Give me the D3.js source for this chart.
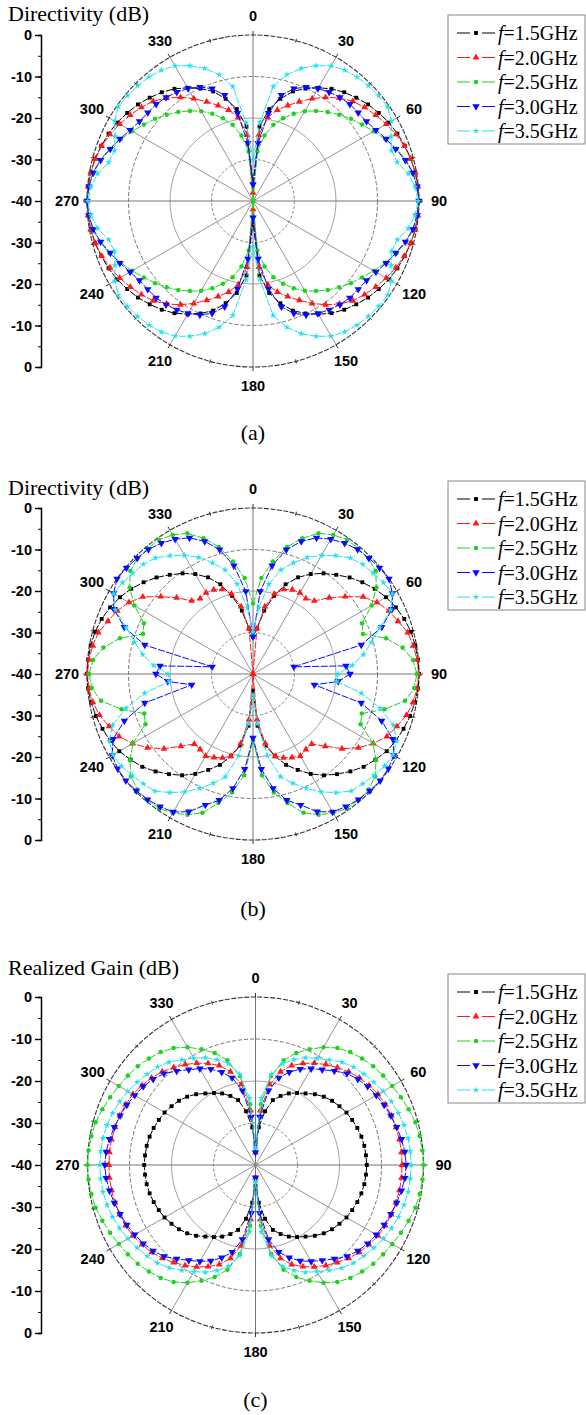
<!DOCTYPE html>
<html lang="en">
<head>
<meta charset="UTF-8">
<title>Directivity and Realized Gain</title>
<script src="https://cdn.jsdelivr.net/npm/d3@7/dist/d3.min.js"></script>
<style>
    body { margin: 0; background: #fff; }
    svg { display: block; }
    .ax text { font-family: "Liberation Sans", Arial, sans-serif; font-weight: bold; font-size: 14.5px; }
    .ang { font-family: "Liberation Sans", Arial, sans-serif; font-weight: bold; font-size: 14.5px; }
    .serif { font-family: "Liberation Serif", "Times New Roman", serif; font-size: 20px; }
    .title { font-family: "Liberation Serif", "Times New Roman", serif; font-size: 22px; }
</style>
</head>
<body>
<script>
    // measurement angles (deg, clockwise from top)
    const angles = d3.range(0, 360, 5)
    const freqs = ["1.5", "2.0", "2.5", "3.0", "3.5"]
    const radialTicks = [-40, -30, -20, -10, 0, 10, 20, 30, 40]

    // (a) Directivity
    const dirA15 = [-36,-22,-17.5,-14.5,-11.9,-10.1,-8.5,-7,-5.8,-4.8,-3.8,-3,-2.2,-1.6,-1.1,-0.6,-0.3,-0.1,0,
        -0.1,-0.3,-0.6,-1.1,-1.6,-2.2,-3,-3.8,-4.8,-5.8,-7,-8.5,-10.1,-11.9,-14.5,-17.5,-22,-35,
        -22,-17.5,-14.5,-11.9,-10.1,-8.5,-7,-5.8,-4.8,-3.8,-3,-2.2,-1.6,-1.1,-0.6,-0.3,-0.1,0,
        -0.1,-0.3,-0.6,-1.1,-1.6,-2.2,-3,-3.8,-4.8,-5.8,-7,-8.5,-10.1,-11.9,-14.5,-17.5,-22]
    const dirA20 = [-38,-24,-19.5,-17.3,-15.5,-13.6,-11.5,-9.5,-7.6,-6,-4.9,-3.9,-2.9,-2,-1.2,-0.7,-0.3,-0.1,0,
        -0.1,-0.3,-0.7,-1.2,-2,-2.9,-3.9,-4.9,-6,-7.6,-9.5,-11.5,-13.6,-15.5,-17.3,-19.5,-24,-38,
        -24,-19.5,-17.3,-15.5,-13.6,-11.5,-9.5,-7.6,-6,-4.9,-3.9,-2.9,-2,-1.2,-0.7,-0.3,-0.1,0,
        -0.1,-0.3,-0.7,-1.2,-2,-2.9,-3.9,-4.9,-6,-7.6,-9.5,-11.5,-13.6,-15.5,-17.3,-19.5,-24]
    const dirA25 = [-40,-28,-24,-21,-18.8,-16.8,-15,-13.5,-12,-10.6,-9.2,-7.9,-6.4,-4.8,-3.2,-1.8,-0.8,-0.3,0,
        -0.3,-0.8,-1.8,-3.2,-4.8,-6.4,-7.9,-9.2,-10.6,-12,-13.5,-15,-16.8,-18.8,-21,-24,-28,-40,
        -28,-24,-21,-18.8,-16.8,-15,-13.5,-12,-10.6,-9.2,-7.9,-6.4,-4.8,-3.2,-1.8,-0.8,-0.3,0,
        -0.3,-0.8,-1.8,-3.2,-4.8,-6.4,-7.9,-9.2,-10.6,-12,-13.5,-15,-16.8,-18.8,-21,-24,-28]
    const dirA30 = [-36,-26,-18.5,-13.6,-11.2,-9.7,-8.7,-8,-7.4,-7,-6.9,-6.6,-5.8,-4.6,-3.4,-2,-0.9,-0.3,0,
        -0.3,-0.9,-2,-3.4,-4.6,-5.8,-6.6,-6.9,-7,-7.4,-8,-8.7,-9.7,-11.2,-13.6,-18.5,-26,-36,
        -26,-18.5,-13.6,-11.2,-9.7,-8.7,-8,-7.4,-7,-6.9,-6.6,-5.8,-4.6,-3.4,-2,-0.9,-0.3,0,
        -0.3,-0.9,-2,-3.4,-4.6,-5.8,-6.6,-6.9,-7,-7.4,-8,-8.7,-9.7,-11.2,-13.6,-18.5,-26]
    const dirA35 = [-30,-21,-12,-8.5,-6,-4,-2.4,-1.5,-1,-0.7,-0.5,-0.4,-1.5,-3.3,-4.5,-4,-2,-0.8,-0.2,
        -0.8,-2,-4,-4.5,-3.3,-1.5,-0.4,-0.5,-0.7,-1,-1.5,-2.4,-4,-6,-8.5,-12,-21,-29,
        -21,-12,-8.5,-6,-4,-2.4,-1.5,-1,-0.7,-0.5,-0.4,-1.5,-3.3,-4.5,-4,-2,-0.8,-0.2,
        -0.8,-2,-4,-4.5,-3.3,-1.5,-0.4,-0.5,-0.7,-1,-1.5,-2.4,-4,-6,-8.5,-12,-21]

    // (b) Directivity
    const dirB15 = [-31,-29,-24.5,-20.5,-17,-14.3,-12.2,-10.4,-8.8,-7.1,-5.6,-4.2,-3,-2,-1.2,-0.6,-0.3,-0.1,0,
        -0.1,-0.4,-0.8,-1.4,-2,-2.8,-4,-5.2,-6.8,-8.5,-10.2,-12.2,-14.5,-16.7,-19.5,-22.5,-27.5,-36,
        -27.5,-22.5,-19.5,-16.7,-14.5,-12.2,-10.2,-8.5,-6.8,-5.2,-4,-2.8,-2,-1.4,-0.8,-0.4,-0.1,0,
        -0.1,-0.3,-0.6,-1.2,-2,-3,-4.2,-5.6,-7.1,-8.8,-10.4,-12.2,-14.3,-17,-20.5,-24.5,-29]
    const dirB20 = [-40,-29,-23.5,-20,-18.3,-17.6,-17.4,-17.8,-17,-14,-11,-7.6,-5.5,-3.9,-2.8,-1.4,-0.8,-0.3,-0.1,
        -0.3,-0.8,-1.7,-3.1,-4.4,-6.5,-9,-12,-15.4,-18,-17.8,-17.2,-17.8,-18.5,-19.5,-23,-29,-40,
        -29,-23,-19.5,-18.5,-17.8,-17.2,-17.8,-18,-15.4,-12,-9,-6.5,-4.4,-3.1,-1.7,-0.8,-0.3,-0.1,
        -0.3,-0.8,-1.4,-2.8,-3.9,-5.5,-7.6,-11,-14,-17,-17.8,-17.4,-17.6,-18.3,-20,-23.5,-29]
    const dirB25 = [-23,-16.8,-12.5,-8.3,-5.2,-2.6,-1.3,-0.5,-0.5,-0.6,-1.4,-3.7,-7,-11,-11.8,-6.8,-3.4,-1.3,-0.5,
        -1,-2.8,-7.2,-12.1,-11.4,-6.6,-3.8,-1.6,-0.6,-0.4,-0.5,-1.3,-2.6,-4.4,-7.8,-11,-15.5,-24,
        -15.5,-11,-7.8,-4.4,-2.6,-1.3,-0.5,-0.4,-0.6,-1.6,-3.8,-6.6,-11.4,-12.1,-7.2,-2.8,-1,-0.5,
        -1.3,-3.4,-6.8,-11.8,-11,-7,-3.7,-1.4,-0.6,-0.5,-0.5,-1.3,-2.6,-5.2,-8.3,-12.5,-16.8]
    const dirB30 = [-31,-20,-13.5,-9,-6,-3.8,-2.5,-1.5,-0.8,-0.5,-0.2,0,-1.2,-3,-7,-13,-30,-17.5,-16.6,
        -19.4,-25,-13,-7,-2.8,-0.8,-0.2,0,-0.2,-0.5,-1,-1.6,-3.4,-6.4,-8.5,-12,-17,-24.6,
        -17,-12,-8.5,-6.4,-3.4,-1.6,-1,-0.5,-0.2,0,-0.2,-0.8,-2.8,-7,-13,-25,-19.4,-16.6,
        -17.5,-30,-13,-7,-3,-1.2,0,-0.2,-0.5,-0.8,-1.5,-2.5,-3.8,-6,-9,-13.5,-20]
    const dirB35 = [-30,-24,-18,-14,-11.5,-9,-7,-5.2,-3.5,-2.6,-2.2,-1.6,-1.2,-3.4,-7.5,-10.5,-13,-16,-19.5,
        -19.8,-13.5,-8.3,-4,-1.8,-1,-1.3,-2,-2.6,-3.2,-5.1,-7.2,-9.6,-12,-14.4,-20,-28,-35,
        -28,-20,-14.4,-12,-9.6,-7.2,-5.1,-3.2,-2.6,-2,-1.3,-1,-1.8,-4,-8.3,-13.5,-19.8,-19.5,
        -16,-13,-10.5,-7.5,-3.4,-1.2,-1.6,-2.2,-2.6,-3.5,-5.2,-7,-9,-11.5,-14,-18,-24]

    // (c) Realized gain
    const gainC15 = [-35,-31,-27,-24,-22.5,-21.2,-20.2,-19.2,-18,-17,-16.2,-15.6,-15,-14.6,-14.2,-13.9,-13.7,-13.6,-13.5,
        -13.6,-13.7,-13.9,-14.2,-14.6,-15,-15.6,-16.2,-17,-18,-19.2,-20.2,-21.2,-22.5,-24,-27,-31,-35,
        -31,-27,-24,-22.5,-21.2,-20.2,-19.2,-18,-17,-16.2,-15.6,-15,-14.6,-14.2,-13.9,-13.7,-13.6,-13.5,
        -13.6,-13.7,-13.9,-14.2,-14.6,-15,-15.6,-16.2,-17,-18,-19.2,-20.2,-21.2,-22.5,-24,-27,-31]
    const gainC20 = [-37,-27,-20.5,-17,-14.8,-13.3,-12,-10.8,-9.7,-8.6,-7.7,-7,-6.3,-5.9,-5.6,-5.4,-5.2,-5.1,-5.1,
        -5.1,-5.2,-5.4,-5.6,-5.9,-6.3,-7,-7.7,-8.6,-9.7,-10.8,-12,-13.3,-14.8,-17,-20.5,-27,-37,
        -27,-20.5,-17,-14.8,-13.3,-12,-10.8,-9.7,-8.6,-7.7,-7,-6.3,-5.9,-5.6,-5.4,-5.2,-5.1,-5.1,
        -5.1,-5.2,-5.4,-5.6,-5.9,-6.3,-7,-7.7,-8.6,-9.7,-10.8,-12,-13.3,-14.8,-17,-20.5,-27]
    const gainC25 = [-36,-25.5,-18.5,-14.2,-11.6,-9.6,-7.6,-6,-4.9,-4.1,-3.4,-2.9,-2.4,-1.8,-1.2,-0.6,-0.3,-0.1,0,
        -0.1,-0.3,-0.6,-1.2,-1.8,-2.4,-2.9,-3.4,-4.1,-4.9,-6,-7.6,-9.6,-11.6,-14.2,-18.5,-25.5,-36,
        -25.5,-18.5,-14.2,-11.6,-9.6,-7.6,-6,-4.9,-4.1,-3.4,-2.9,-2.4,-1.8,-1.2,-0.6,-0.3,-0.1,0,
        -0.1,-0.3,-0.6,-1.2,-1.8,-2.4,-2.9,-3.4,-4.1,-4.9,-6,-7.6,-9.6,-11.6,-14.2,-18.5,-25.5]
    const gainC30 = [-37,-28.5,-22,-18.5,-16.5,-14.8,-13.5,-12.3,-10.8,-9.2,-8.2,-7.4,-6.8,-6.2,-5.7,-5.2,-4.7,-4.3,-4.1,
        -4.3,-4.7,-5.2,-5.7,-6.2,-6.8,-7.4,-8.2,-9.2,-10.8,-12.3,-13.5,-14.8,-16.5,-18.5,-22,-28.5,-37,
        -28.5,-22,-18.5,-16.5,-14.8,-13.5,-12.3,-10.8,-9.2,-8.2,-7.4,-6.8,-6.2,-5.7,-5.2,-4.7,-4.3,-4.1,
        -4.3,-4.7,-5.2,-5.7,-6.2,-6.8,-7.4,-8.2,-9.2,-10.8,-12.3,-13.5,-14.8,-16.5,-18.5,-22,-28.5]
    const gainC35 = [-36,-24,-18,-15,-13.3,-11.8,-10.7,-9.4,-8,-7,-6.3,-5.6,-4.9,-4.3,-3.8,-3.4,-3.1,-3,-2.9,
        -3,-3.1,-3.4,-3.8,-4.3,-4.9,-5.6,-6.3,-7,-8,-9.4,-10.7,-11.8,-13.3,-15,-18,-24,-36,
        -24,-18,-15,-13.3,-11.8,-10.7,-9.4,-8,-7,-6.3,-5.6,-4.9,-4.3,-3.8,-3.4,-3.1,-3,-2.9,
        -3,-3.1,-3.4,-3.8,-4.3,-4.9,-5.6,-6.3,-7,-8,-9.4,-10.7,-11.8,-13.3,-15,-18,-24]

    const colors = ["#000000", "#ff1a1a", "#1fd21f", "#0a0aff", "#22e2ee"]
    const markers = [
        { type: d3.symbolSquare, size: 15, rot: 0 },
        { type: d3.symbolTriangle, size: 20, rot: 0 },
        { type: d3.symbolCircle, size: 16, rot: 0 },
        { type: d3.symbolTriangle, size: 24, rot: 180 },
        { type: d3.symbolStar, size: 14, rot: 0 }
    ]

    const panels = [
        { cx: 253, cy: 201, R: 166, title: "Directivity (dB)", titleY: 21, caption: "(a)", capY: 440, legY: 15,
          data: [dirA15, dirA20, dirA25, dirA30, dirA35] },
        { cx: 253, cy: 674, R: 166, title: "Directivity (dB)", titleY: 495, caption: "(b)", capY: 916, legY: 481,
          data: [dirB15, dirB20, dirB25, dirB30, dirB35] },
        { cx: 255.5, cy: 1165, R: 168, title: "Realized Gain (dB)", titleY: 975, caption: "(c)", capY: 1407, legY: 974,
          data: [gainC15, gainC20, gainC25, gainC30, gainC35] }
    ]

    const svg = d3.select("body").append("svg")
        .attr("width", 586)
        .attr("height", 1415)

    const rad = (deg) => deg * Math.PI / 180

    function drawPanel(p) {
        const r = d3.scaleLinear().domain([-40, 0]).range([0, p.R]).clamp(true)

        // left radial axis (0 at top, -40 at centre, 0 at bottom)
        const y = d3.scaleLinear().domain([-40, 40]).range([p.cy - p.R, p.cy + p.R])
        svg.append("g")
            .attr("class", "ax")
            .attr("transform", "translate(41,0)")
            .call(d3.axisLeft(y).tickValues(d3.range(-40, 41, 5)).tickSize(3).tickFormat(""))
            .call(g => g.select(".domain").attr("stroke-width", 1.5))
        svg.append("g")
            .attr("class", "ax")
            .attr("transform", "translate(41,0)")
            .call(d3.axisLeft(y).tickValues(radialTicks).tickSize(6).tickPadding(3)
                .tickFormat(d => (Math.abs(d) - 40 === 0 ? "0" : String(Math.abs(d) - 40))))
            .call(g => g.select(".domain").remove())
            .call(g => g.selectAll("line").attr("stroke-width", 1.4))

        svg.append("text")
            .attr("class", "title")
            .attr("x", 8)
            .attr("y", p.titleY)
            .text(p.title)

        const g = svg.append("g").attr("transform", `translate(${p.cx},${p.cy})`)

        // grid rings
        const rings = [
            { v: -30, dash: "3,2", stroke: "#777" },
            { v: -20, dash: null, stroke: "#999" },
            { v: -10, dash: "4,2", stroke: "#666" }
        ]
        g.selectAll(".ring")
            .data(rings)
            .enter().append("circle")
            .attr("r", d => r(d.v))
            .attr("fill", "none")
            .attr("stroke", d => d.stroke)
            .attr("stroke-width", 0.9)
            .attr("stroke-dasharray", d => d.dash)

        // spokes every 30 deg
        g.selectAll(".spoke")
            .data(d3.range(0, 180, 30))
            .enter().append("line")
            .attr("x1", d => p.R * Math.sin(rad(d)))
            .attr("y1", d => -p.R * Math.cos(rad(d)))
            .attr("x2", d => -p.R * Math.sin(rad(d)))
            .attr("y2", d => p.R * Math.cos(rad(d)))
            .attr("stroke", d => d % 90 === 0 ? "#666" : "#888")
            .attr("stroke-width", 0.9)

        // outer ring + tick marks
        g.append("circle")
            .attr("r", p.R)
            .attr("fill", "none")
            .attr("stroke", "#333")
            .attr("stroke-width", 1.1)
            .attr("stroke-dasharray", "5,1.5")
        g.selectAll(".otick")
            .data(d3.range(0, 360, 15))
            .enter().append("line")
            .attr("x1", d => (p.R - (d % 30 ? 2 : 0)) * Math.sin(rad(d)))
            .attr("y1", d => -(p.R - (d % 30 ? 2 : 0)) * Math.cos(rad(d)))
            .attr("x2", d => (p.R + (d % 30 ? 2 : 4)) * Math.sin(rad(d)))
            .attr("y2", d => -(p.R + (d % 30 ? 2 : 4)) * Math.cos(rad(d)))
            .attr("stroke", "#333")
            .attr("stroke-width", 1)

        // angle labels
        g.selectAll(".ang")
            .data(d3.range(0, 360, 30))
            .enter().append("text")
            .attr("class", "ang")
            .attr("x", d => (p.R + 20) * Math.sin(rad(d)))
            .attr("y", d => -(p.R + 19) * Math.cos(rad(d)))
            .attr("dy", "0.36em")
            .attr("text-anchor", "middle")
            .text(d => d)

        // series
        const line = d3.lineRadial()
            .angle((d, i) => rad(angles[i]))
            .radius(d => r(d))
            .curve(d3.curveLinearClosed)

        p.data.forEach((vals, k) => {
            g.append("path")
                .attr("d", line(vals))
                .attr("fill", "none")
                .attr("stroke", colors[k])
                .attr("stroke-width", 1)
                .attr("stroke-dasharray", "7,1.5")

            const sym = d3.symbol(markers[k].type, markers[k].size)
            g.selectAll(null)
                .data(vals)
                .enter().append("path")
                .attr("d", sym)
                .attr("fill", colors[k])
                .attr("transform", (d, i) => {
                    const a = rad(angles[i])
                    const rr = r(d)
                    return `translate(${rr * Math.sin(a)},${-rr * Math.cos(a)}) rotate(${markers[k].rot})`
                })
        })

        svg.append("text")
            .attr("class", "title")
            .attr("x", p.cx)
            .attr("y", p.capY)
            .attr("text-anchor", "middle")
            .text(p.caption)

        // legend
        const leg = svg.append("g").attr("transform", `translate(448,${p.legY})`)
        leg.append("rect")
            .attr("width", 137)
            .attr("height", 129)
            .attr("fill", "#fff")
            .attr("stroke", "#888")
            .attr("stroke-width", 1)

        freqs.forEach((f, k) => {
            const ly = 18 + k * 24.5
            leg.append("line")
                .attr("x1", 9).attr("x2", 47)
                .attr("y1", ly).attr("y2", ly)
                .attr("stroke", colors[k])
                .attr("stroke-width", 1)
                .attr("stroke-dasharray", "13,12,13")
            leg.append("path")
                .attr("d", d3.symbol(markers[k].type, markers[k].size)())
                .attr("fill", colors[k])
                .attr("transform", `translate(28,${ly}) rotate(${markers[k].rot})`)
            const t = leg.append("text")
                .attr("class", "serif")
                .attr("x", 50)
                .attr("y", ly + 7)
            t.append("tspan").attr("font-style", "italic").text("f")
            t.append("tspan").text(`=${f}GHz`)
        })
    }

    panels.forEach(drawPanel)
</script>
</body>
</html>
